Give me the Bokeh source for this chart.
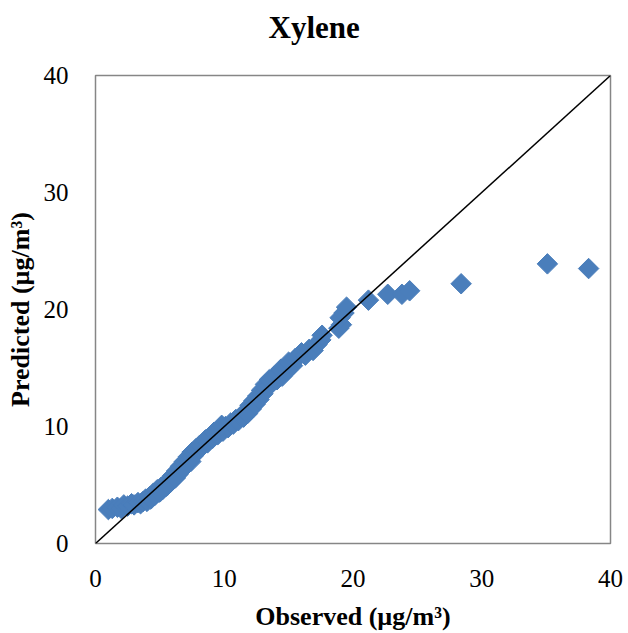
from bokeh.plotting import figure
from bokeh.models import Range1d, FixedTicker, ColumnDataSource, LinearAxis
from bokeh.embed import file_html
from bokeh.resources import INLINE
import math

title_text = "Xylene"
x_label = "Observed (µg/m³)"
y_label = "Predicted (µg/m³)"
ticks = [0, 10, 20, 30, 40]

observed = [1.0, 1.3, 1.7, 2.0, 2.2, 2.5, 2.8, 3.0, 3.3, 3.5, 3.7, 3.9, 4.0, 4.2, 4.3,
            4.5, 4.6, 4.8, 4.9, 5.1, 5.2, 5.4, 5.5, 5.7, 5.8, 6.0, 6.1, 6.3, 6.4, 6.6,
            6.7, 6.9, 7.0, 7.2, 7.3, 7.5, 7.6, 7.8, 7.9, 8.1, 8.3, 8.5, 8.7, 8.9, 9.1,
            9.3, 9.5, 9.7, 9.9, 10.1, 10.3, 10.5, 10.7, 10.9, 11.1, 11.3, 11.5, 11.7,
            11.8, 12.0, 12.1, 12.3, 12.4, 12.6, 12.7, 12.9, 13.0, 13.2, 13.3, 13.5,
            13.7, 13.9, 14.1, 14.3, 14.5, 14.7, 14.9, 15.1, 15.3, 15.5, 15.7, 16.0,
            16.3, 16.6, 16.9, 17.2, 17.5, 17.6, 18.9, 19.1, 19.0, 19.3, 19.5,
            5.0, 5.6, 6.2, 6.8, 7.4, 8.6, 9.2, 9.8, 13.6, 14.4, 15.0,
            21.2, 22.7, 23.8, 24.4, 28.4, 35.1, 38.3]
predicted = [2.9, 3.0, 3.1, 3.0, 3.3, 3.2, 3.4, 3.3, 3.5, 3.4, 3.6, 3.8, 3.6, 4.0, 3.8,
             4.3, 4.1, 4.6, 4.4, 4.8, 4.6, 5.1, 4.9, 5.4, 5.2, 5.8, 5.6, 6.2, 5.9, 6.6,
             6.3, 7.0, 6.8, 7.4, 7.1, 7.8, 7.5, 8.1, 7.9, 8.4, 8.3, 8.8, 8.6, 9.1, 9.0,
             9.4, 9.3, 9.7, 9.6, 10.0, 9.9, 10.3, 10.2, 10.6, 10.5, 10.9, 10.8, 11.3,
             11.1, 11.8, 11.5, 12.2, 11.9, 12.6, 12.3, 13.1, 12.8, 13.6, 13.3, 14.0,
             13.7, 14.3, 14.0, 14.6, 14.3, 15.0, 14.8, 15.4, 15.2, 15.8, 15.9, 16.3,
             16.1, 16.6, 16.5, 17.0, 17.4, 17.8, 18.4, 18.7, 19.3, 19.7, 20.2,
             4.4, 5.0, 5.6, 6.4, 7.0, 8.9, 9.5, 10.1, 13.9, 14.9, 15.5,
             20.8, 21.3, 21.3, 21.6, 22.2, 23.9, 23.5]
line_x = [0, 40]
line_y = [0, 40]

font = "Liberation Serif"

p = figure(width=628, height=633, output_backend="svg", toolbar_location=None,
           x_range=Range1d(0, 40), y_range=Range1d(0, 40),
           min_border_left=95, min_border_right=18, min_border_top=75, min_border_bottom=87)
p.background_fill_color = "white"
p.border_fill_color = "white"
p.outline_line_color = "#868686"
p.outline_line_width = 1.5
p.grid.visible = False

bottom_axis = p.below[0]
left_axis = p.left[0]

for ax in (bottom_axis, left_axis):
    ax.ticker = FixedTicker(ticks=ticks)
    ax.axis_line_color = None
    ax.major_tick_line_color = None
    ax.minor_tick_line_color = None
    ax.major_label_text_font = font
    ax.major_label_text_font_size = "25px"
    ax.major_label_text_color = "black"
    ax.axis_label_text_font = font
    ax.axis_label_text_font_size = "26px"
    ax.axis_label_text_font_style = "bold"
    ax.axis_label_text_color = "black"

bottom_axis.axis_label = x_label
left_axis.axis_label = y_label
bottom_axis.major_label_standoff = 20
bottom_axis.axis_label_standoff = 12
left_axis.major_label_standoff = 21
left_axis.axis_label_standoff = 6

# title drawn as the label of an empty top axis (shifted left with trailing no-break spaces)
top_axis = LinearAxis(axis_label=title_text + "\u00a0" * 10, ticker=FixedTicker(ticks=[]),
                      axis_line_color=None, major_tick_line_color=None,
                      minor_tick_line_color=None, major_label_standoff=0,
                      major_tick_out=0, major_tick_in=0,
                      major_label_text_font_size="0px",
                      axis_label_standoff=31, axis_label_text_font=font,
                      axis_label_text_font_size="31px", axis_label_text_font_style="bold",
                      axis_label_text_color="black")
p.add_layout(top_axis, "above")

src = ColumnDataSource(dict(x=observed, y=predicted))
p.scatter("x", "y", source=src, marker="square", size=14.5, angle=math.pi / 4,
          fill_color="#4A7EBB", line_color="#4A7EBB")
p.line(line_x, line_y, line_color="black", line_width=1.5)

open("out.html", "w").write(file_html(p, INLINE))
